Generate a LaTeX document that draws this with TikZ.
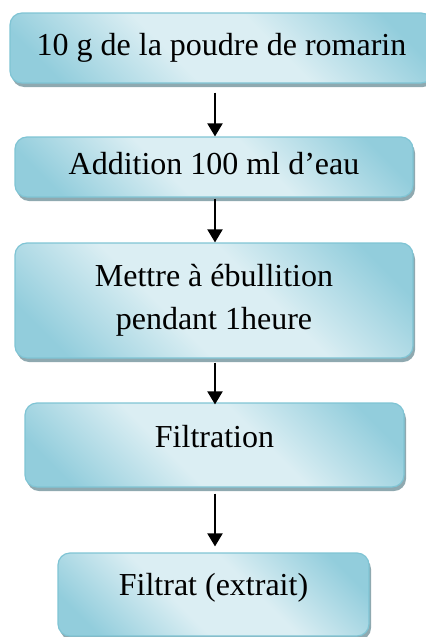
\documentclass[tikz,border=0pt]{standalone}
\usepackage{fontspec}
\setmainfont{Liberation Serif}
\usetikzlibrary{shadows,arrows.meta}

\definecolor{boxdark}{HTML}{92CDDC}
\definecolor{boxlight}{HTML}{DBEEF3}
\definecolor{boxline}{HTML}{7FC4D4}
\definecolor{boxshadow}{HTML}{8FA9B0}
\pgfdeclarehorizontalshading{boxshade}{100bp}{color(0bp)=(boxdark); color(22bp)=(boxdark); color(42bp)=(boxlight); color(58bp)=(boxlight); color(78bp)=(boxdark); color(100bp)=(boxdark)}

\tikzset{
  stage/.style={draw=boxline, line width=0.6pt, rounded corners=6pt,
    shading=boxshade, shading angle=45,
    drop shadow={shadow xshift=1pt, shadow yshift=-2pt, fill=boxshadow, opacity=1},
    align=center, font=\fontsize{16}{21.5}\selectfont, inner sep=0pt},
  oneline/.style={text height=11pt, text depth=3.5pt},
  flow/.style={-{Triangle[width=7.5pt,length=6.5pt]}, line width=1pt}
}

\begin{document}
\begin{tikzpicture}[x=0.5pt,y=-0.5pt]
            \useasboundingbox (0,0) rectangle (425,637);
            \coordinate (axe) at (215,0);
            \node[stage, oneline, minimum width=211.5pt, minimum height=35pt] (poudre) at (221.5,48) {10 g de la poudre de romarin};
            \node[stage, oneline, minimum width=199pt, minimum height=30pt] (eau) at (214,167) {Addition 100 ml d’eau};
            \node[stage, minimum width=199pt, minimum height=57.5pt] (ebull) at (214,300.5) {Mettre à ébullition\\pendant 1heure};
            \node[stage, oneline, text depth=9pt, minimum width=189.5pt, minimum height=42pt] (filtr) at (214.5,445) {Filtration};
            \node[stage, oneline, text depth=10.5pt, minimum width=155.5pt, minimum height=41.5pt] (filtrat) at (213.5,594.5) {Filtrat (extrait)};
            \draw[flow] ([yshift=-4.5pt]poudre.south -| axe) -- (eau.north -| axe);
            \draw[flow] ([yshift=-0.5pt]eau.south -| axe) -- (ebull.north -| axe);
            \draw[flow] ([yshift=-2pt]ebull.south -| axe) -- ([yshift=-1pt]filtr.north -| axe);
            \draw[flow] ([yshift=-3pt]filtr.south -| axe) -- ([yshift=3pt]filtrat.north -| axe);
        \end{tikzpicture}
\end{document}
